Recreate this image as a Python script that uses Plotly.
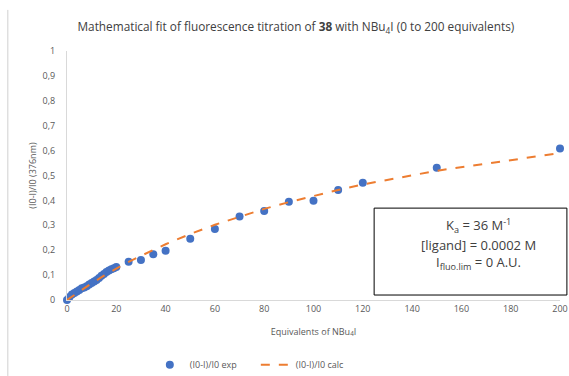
import plotly.graph_objects as go

# Experimental data (equivalents of NBu4I vs (I0-I)/I0)
equiv = [0, 1, 2, 3, 4, 5, 6, 7, 8, 9, 10, 11, 12, 13, 14, 15, 16, 17, 18, 19, 20,
         25, 30, 35, 40, 50, 60, 70, 80, 90, 100, 110, 120, 150, 200]
exp_vals = [0.0, 0.012, 0.022, 0.028, 0.034, 0.040, 0.047, 0.050, 0.055, 0.062, 0.068,
            0.074, 0.080, 0.088, 0.097, 0.104, 0.112, 0.118, 0.123, 0.128, 0.133,
            0.154, 0.161, 0.184, 0.198, 0.246, 0.285, 0.335, 0.357, 0.395, 0.399,
            0.442, 0.471, 0.531, 0.608]
calc_vals = [0.0, 0.007, 0.014, 0.021, 0.028, 0.035, 0.041, 0.048, 0.054, 0.061, 0.067,
             0.073, 0.080, 0.086, 0.092, 0.098, 0.103, 0.109, 0.115, 0.120, 0.126,
             0.153, 0.178, 0.201, 0.224, 0.265, 0.302, 0.335, 0.366, 0.393, 0.419,
             0.442, 0.464, 0.519, 0.590]

box_lines = ["K<sub>a</sub> = 36 M<sup>-1</sup>",
             "[ligand] = 0.0002 M",
             "I<sub>fluo.lim</sub> = 0 A.U."]

font = "Open Sans, Noto Sans, sans-serif"

fig = go.Figure()
fig.add_trace(go.Scatter(
    x=equiv, y=exp_vals, mode="markers", name="(I0-I)/I0 exp",
    marker=dict(color="#4472C4", size=8), cliponaxis=False
))
fig.add_trace(go.Scatter(
    x=equiv, y=calc_vals, mode="lines", name="(I0-I)/I0 calc",
    line=dict(color="#ED7D31", width=2, dash="dash"), cliponaxis=False
))

fig.update_layout(
    width=569, height=376,
    margin=dict(l=67, r=9, t=51, b=76, autoexpand=False),
    paper_bgcolor="white", plot_bgcolor="white",
    separators=", ",
    font=dict(family=font, color="#595959", size=9),
    title=dict(
        text="Mathematical fit of fluorescence titration of <b>38</b> with NBu<sub>4</sub>I (0 to 200 equivalents)",
        x=0.52, xanchor="center", y=0.928, yanchor="middle",
        font=dict(size=11.8, color="#404040")
    ),
    showlegend=True,
    legend=dict(orientation="h", x=0.168, xanchor="left", y=-0.26, yanchor="middle",
                entrywidth=61, font=dict(size=9, color="#595959")),
)

fig.update_xaxes(range=[0, 200], dtick=20, showgrid=False, zeroline=False,
                 showline=True, linecolor="#d9d9d9", linewidth=1, ticks="",
                 automargin=False,
                 title=dict(text="Equivalents of NBu<sub>4</sub>I", standoff=14,
                            font=dict(size=9, color="#595959")))
fig.update_yaxes(range=[0, 1], dtick=0.1, showgrid=False, zeroline=False,
                 showline=True, linecolor="#d9d9d9", linewidth=1, ticks="",
                 ticklabelstandoff=9, automargin=False,
                 title=dict(text="(I0-I)/I0 (376nm)", standoff=4,
                            font=dict(size=9, color="#595959")))

# parameter box
fig.add_shape(type="rect", xref="paper", yref="paper", x0=0.623, x1=1.014, y0=0.02, y1=0.369,
              line=dict(color="black", width=1), fillcolor="white", layer="above")
for txt, yy in zip(box_lines, [0.301, 0.221, 0.149]):
    fig.add_annotation(xref="paper", yref="paper", x=0.834, y=yy, xanchor="center", yanchor="middle",
                       text=txt, showarrow=False, font=dict(size=13, color="#404040", family=font))

# chart frame edge on the left
fig.add_shape(type="line", xref="paper", yref="paper", x0=-0.12, x1=-0.12, y0=-0.305, y1=1.165,
              line=dict(color="#d0d0d0", width=1))

fig.write_html("out.html", config={"displayModeBar": False},
               post_script="document.body.style.margin='0';")
